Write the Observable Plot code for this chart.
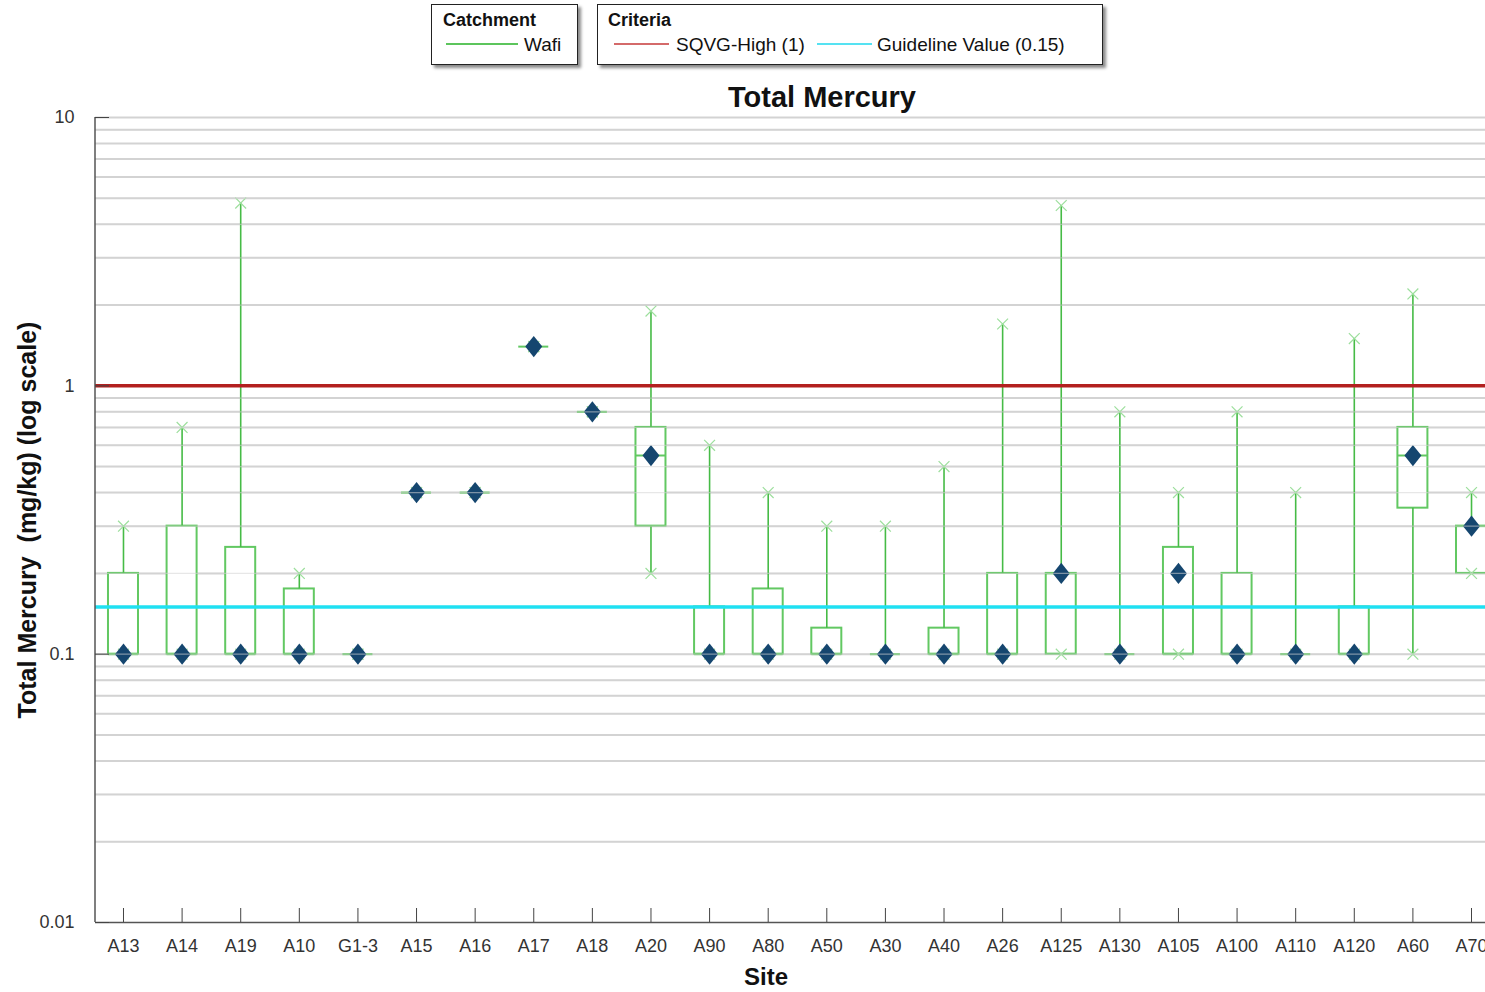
<!DOCTYPE html>
<html>
<head>
<meta charset="utf-8">
<script src="https://cdn.jsdelivr.net/npm/d3@7"></script>
<script src="https://cdn.jsdelivr.net/npm/@observablehq/plot@0.6"></script>
<style>
  html, body { margin: 0; padding: 0; background: #fff; overflow: hidden; }
  #wrap { position: relative; width: 1485px; height: 992px; overflow: hidden; font-family: "Liberation Sans", Arial, sans-serif; }
  #chart { position: absolute; left: 0; top: 0; width: 1510px; }
  #chart svg { max-width: none !important; }
  .abs { position: absolute; white-space: nowrap; }
  .legbox { position: absolute; border: 1px solid #222; background: #fff; box-shadow: 3px 3px 3px #8a8a8a; }
  .legline { position: absolute; height: 0; border-top: 2px solid; }
</style>
</head>
<body>
<div id="wrap">
  <div id="chart"></div>
  <div class="legbox" style="left:431px;top:4px;width:145px;height:59px;"></div>
  <div class="abs" style="left:443px;top:10px;font-size:18px;font-weight:bold;color:#111;">Catchment</div>
  <div class="legline" style="left:446px;top:43px;width:72px;border-color:#5cc55c;"></div>
  <div class="abs" style="left:524px;top:34px;font-size:19px;color:#111;">Wafi</div>

  <div class="legbox" style="left:597px;top:4px;width:504px;height:59px;"></div>
  <div class="abs" style="left:608px;top:10px;font-size:18px;font-weight:bold;color:#111;">Criteria</div>
  <div class="legline" style="left:614px;top:43px;width:55px;border-color:#d46a6a;"></div>
  <div class="abs" style="left:676px;top:34px;font-size:19px;color:#111;">SQVG-High (1)</div>
  <div class="legline" style="left:817px;top:43px;width:55px;border-color:#55e2f2;"></div>
  <div class="abs" style="left:877px;top:34px;font-size:19px;color:#111;">Guideline Value (0.15)</div>

  <div class="abs" style="left:822px;top:81px;transform:translateX(-50%);font-size:29px;font-weight:bold;color:#111;">Total Mercury</div>
  <div class="abs" style="left:766px;top:963px;transform:translateX(-50%);font-size:24px;font-weight:bold;color:#111;">Site</div>
  <div class="abs" style="left:27px;top:520px;transform:translate(-50%,-50%) rotate(-90deg);font-size:25px;font-weight:bold;color:#111;">Total Mercury&nbsp; (mg/kg) (log scale)</div>
</div>
<script>
const sites  = ["A13","A14","A19","A10","G1-3","A15","A16","A17","A18","A20","A90","A80","A50","A30","A40","A26","A125","A130","A105","A100","A110","A120","A60","A70"];
const q1     = [0.1,0.1,0.1,0.1,0.1,0.4,0.4,1.4,0.8,0.3,0.1,0.1,0.1,0.1,0.1,0.1,0.1,0.1,0.1,0.1,0.1,0.1,0.35,0.2];
const q3     = [0.2,0.3,0.25,0.175,0.1,0.4,0.4,1.4,0.8,0.7,0.15,0.175,0.125,0.1,0.125,0.2,0.2,0.1,0.25,0.2,0.1,0.15,0.7,0.3];
const median = [0.1,0.1,0.1,0.1,0.1,0.4,0.4,1.4,0.8,0.55,0.1,0.1,0.1,0.1,0.1,0.1,0.2,0.1,0.1,0.1,0.1,0.1,0.55,0.3];
const minV   = [0.1,0.1,0.1,0.1,0.1,0.4,0.4,1.4,0.8,0.2,0.1,0.1,0.1,0.1,0.1,0.1,0.1,0.1,0.1,0.1,0.1,0.1,0.1,0.2];
const maxV   = [0.3,0.7,4.8,0.2,0.1,0.4,0.4,1.4,0.8,1.9,0.6,0.4,0.3,0.3,0.5,1.7,4.7,0.8,0.4,0.8,0.4,1.5,2.2,0.4];
const meanV  = [0.1,0.1,0.1,0.1,0.1,0.4,0.4,1.4,0.8,0.55,0.1,0.1,0.1,0.1,0.1,0.1,0.2,0.1,0.2,0.1,0.1,0.1,0.55,0.3];
const yTicks = [0.01, 0.1, 1, 10];
const criteria = [{name: "SQVG-High (1)", value: 1, color: "#b3201f"}, {name: "Guideline Value (0.15)", value: 0.15, color: "#1fe0f2"}];

const rows = sites.map((s, i) => ({site: s, q1: q1[i], q3: q3[i], median: median[i], min: minV[i], max: maxV[i], mean: meanV[i]}));
const grid = [];
for (const d of [0.01, 0.1, 1]) for (let k = 1; k <= 9; k++) { const v = +(k * d).toPrecision(3); if (v !== 0.01) grid.push(v); }
grid.push(10);
const gridTop = grid.filter(v => v !== 1);

const diamond = {
  draw(ctx, size) {
    const r = Math.sqrt(size / Math.PI);
    const hh = r * 1.25, hw = r;
    ctx.moveTo(0, -hh); ctx.lineTo(hw, 0); ctx.lineTo(0, hh); ctx.lineTo(-hw, 0); ctx.closePath();
  }
};

const leftLine = (index, scales, values, dims) => {
  const g = d3.create("svg:line")
    .attr("x1", dims.marginLeft).attr("x2", dims.marginLeft)
    .attr("y1", dims.marginTop).attr("y2", dims.height - dims.marginBottom)
    .attr("stroke", "#555").attr("stroke-width", 1.5);
  return g.node();
};

const green = "#46bb46", boxGreen = "#62c862", xGreen = "#9ddf9d";

const chart = Plot.plot({
  width: 1510,
  height: 992,
  marginTop: 117,
  marginBottom: 70,
  marginLeft: 95,
  marginRight: 11,
  style: {fontFamily: "Liberation Sans, Arial, sans-serif", background: "transparent", maxWidth: "none"},
  x: {type: "band", domain: sites, paddingInner: 0.488, paddingOuter: 0.2215, round: false, label: null},
  y: {type: "log", domain: [0.01, 10], label: null},
  marks: [
    Plot.ruleY(grid, {stroke: "#d3d3d3", strokeWidth: 2}),
    Plot.barY(rows, {x: "site", y1: "q1", y2: "q3", fill: "white", stroke: boxGreen, strokeWidth: 2}),
    Plot.ruleX(rows, {x: "site", y1: "q3", y2: "max", stroke: green, strokeWidth: 1.6}),
    Plot.ruleX(rows, {x: "site", y1: "min", y2: "q1", stroke: green, strokeWidth: 1.6}),
    Plot.tickY(rows, {x: "site", y: "median", stroke: boxGreen, strokeWidth: 2}),
    Plot.dot(rows, {x: "site", y: "max", symbol: "times", r: 5, stroke: xGreen, strokeWidth: 1.2}),
    Plot.dot(rows, {x: "site", y: "min", symbol: "times", r: 5, stroke: xGreen, strokeWidth: 1.2}),
    Plot.ruleY(criteria, {y: "value", stroke: "color", strokeWidth: 3.5}),
    Plot.dot(rows, {x: "site", y: "mean", symbol: diamond, r: 8.5, fill: "#15466f", stroke: "none"}),
    Plot.ruleY(gridTop, {stroke: "#d3d3d3", strokeWidth: 1.2, strokeOpacity: 0.55}),
    Plot.ruleY([0.01], {stroke: "#555", strokeWidth: 1.5}),
    leftLine,
    Plot.axisY({ticks: yTicks, tickSize: 14, dx: 14, tickFormat: () => "", stroke: "#444", label: null}),
    Plot.axisY({ticks: yTicks, tickSize: 0, tickPadding: 21, tickFormat: d => String(d), fontSize: 18, fill: "#333", label: null}),
    Plot.axisX({tickSize: 14, dy: -14, tickFormat: () => "", stroke: "#444", label: null}),
    Plot.axisX({tickSize: 0, tickPadding: 17, fontSize: 18, fill: "#333", label: null})
  ]
});
chart.style.maxWidth = "none";
document.getElementById("chart").appendChild(chart);
</script>
</body>
</html>
